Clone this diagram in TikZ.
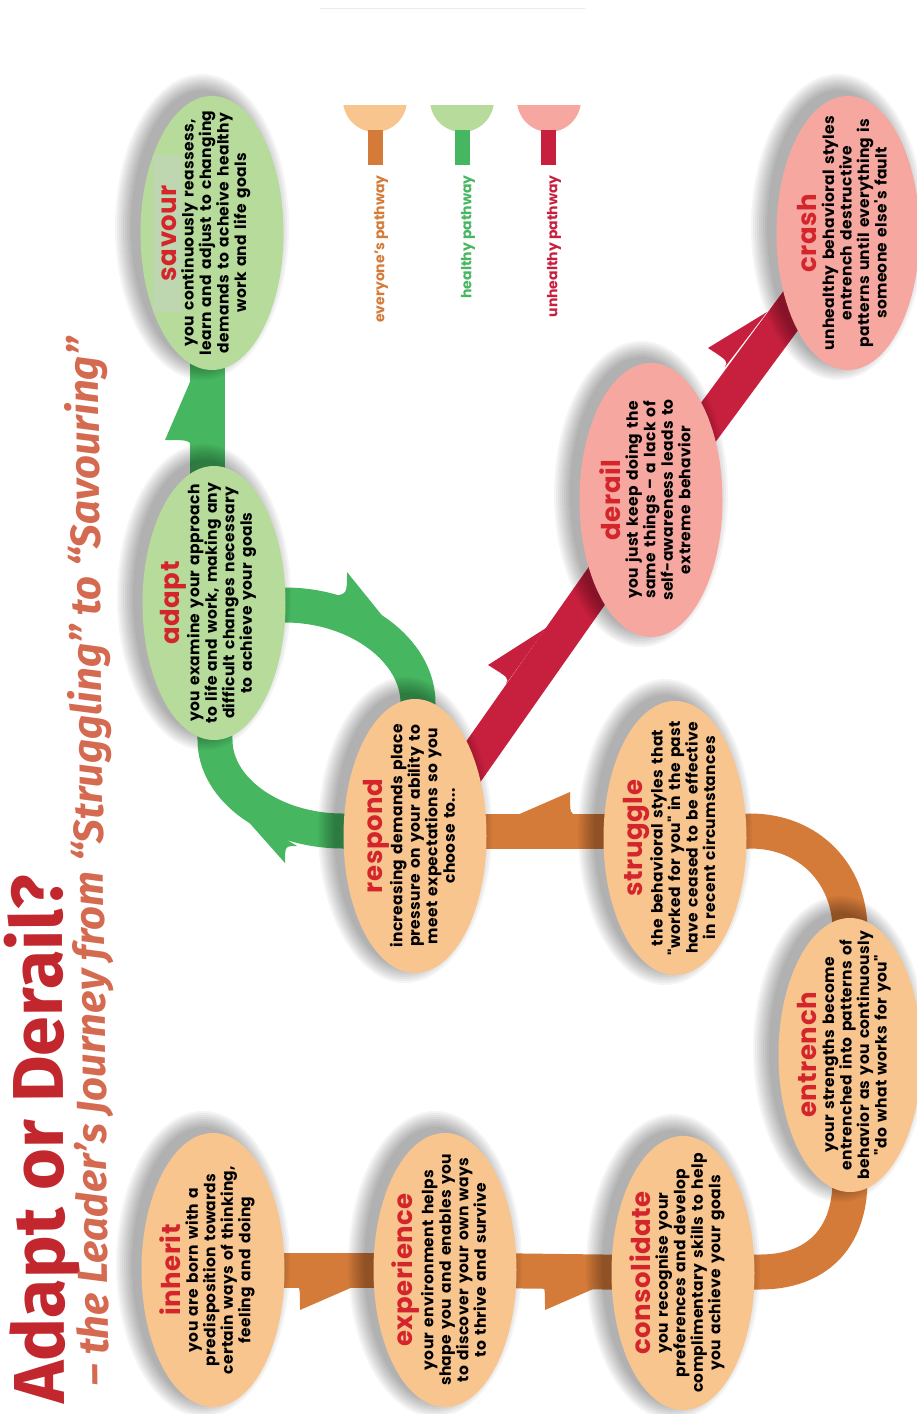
\documentclass[tikz,border=0pt]{standalone}
\usepackage{fontspec}
\setmainfont{Poppins}
\newfontfamily\blurbfont{Poppins}[LetterSpace=2,WordSpace=1.5]
\newfontfamily\titlefont{Fira Sans}
\usetikzlibrary{shapes.geometric,calc}

\definecolor{stageorange}{RGB}{249,197,143}
\definecolor{stagegreen}{RGB}{182,219,154}
\definecolor{stagepink}{RGB}{246,168,160}
\definecolor{bandorange}{RGB}{212,123,58}
\definecolor{bandgreen}{RGB}{70,182,96}
\definecolor{bandred}{RGB}{199,32,62}
\definecolor{headred}{RGB}{212,37,44}
\definecolor{titlered}{RGB}{193,39,45}
\definecolor{subtitlecol}{RGB}{212,106,80}
\definecolor{savourpatch}{RGB}{190,215,176}

\pgfdeclarelayer{bands}
\pgfdeclarelayer{shade}
\pgfsetlayers{bands,shade,main}

\tikzset{
  stage/.style={ellipse, minimum width=274pt, minimum height=143pt,
                inner sep=0pt, rotate=90},
  calm/.style={stage, fill=stageorange},
  healthy/.style={stage, fill=stagegreen},
  unhealthy/.style={stage, fill=stagepink},
  blurb/.style={rotate=90, align=center, inner sep=0pt,
                font=\blurbfont\fontsize{15.5}{17.5}\selectfont\bfseries},
  band/.style={line width=35pt},
  legendtext/.style={rotate=90, anchor=east, inner sep=0pt,
                font=\fontsize{14}{16}\selectfont\bfseries}
}
\newcommand{\stagehead}[1]{{\fontsize{26}{28}\selectfont\color{headred}#1}}
% soft shadow behind a stage, offset up and to the left
\newcommand{\softshadow}[1]{%
  \foreach \k in {0,...,8}
    {\fill[black, opacity=0.038] ($(#1)+(-10,-6)$) ellipse ({71+\k*2} and {137+\k*2});}}
% one-sided barb on a pathway: point, notch end, notch control, taper end
\newcommand{\barb}[5]{\fill[#1] (#2) .. controls (#4) .. (#3) -- (#5) -- cycle;}

\begin{document}
\begin{tikzpicture}[x=1pt, y=-1pt]
\useasboundingbox (0,0) rectangle (917,1414);

% ---------- stages ----------
\node[calm] (inherit) at (213,1270) {};
\node[calm] (experience) at (445,1270) {};
\node[calm] (consolidate) at (683,1273) {};
\node[calm] (entrench) at (850,1055) {};
\node[calm] (struggle) at (675,838) {};
\node[calm] (respond) at (415,836) {};
\node[healthy] (adapt) at (214,603) {};
\node[healthy] (savour) at (212,233) {};
\node[unhealthy] (derail) at (651,500) {};
\node[unhealthy] (crash) at (848,233) {};

\fill[savourpatch] (153,155) rectangle (182,312);

\node[blurb] (inherit-t) at ($(inherit.center)+(-6,0)$)
  {\stagehead{inherit}\\you are born with a\\predisposition towards\\certain ways of thinking,\\feeling and doing};
\node[blurb] (experience-t) at ($(experience.center)+(-6,0)$)
  {\stagehead{experience}\\your environment helps\\shape you and enables you\\to discover your own ways\\to thrive and survive};
\node[blurb] (consolidate-t) at ($(consolidate.center)+(-6,0)$)
  {\stagehead{consolidate}\\you recognise your\\preferences and develop\\complimentary skills to help\\you achieve your goals};
\node[blurb] (entrench-t) at ($(entrench.center)+(-6,0)$)
  {\stagehead{entrench}\\your strengths become\\entrenched into patterns of\\behavior as you continuously\\"do what works for you"};
\node[blurb] (struggle-t) at ($(struggle.center)+(-6,0)$)
  {\stagehead{struggle}\\the behavioral styles that\\"worked for you" in the past\\have ceased to be effective\\in recent circumstances};
\node[blurb] (respond-t) at ($(respond.center)+(-6,0)$)
  {\stagehead{respond}\\increasing demands place\\pressure on your ability to\\meet expectations so you\\choose to...};
\node[blurb] (adapt-t) at ($(adapt.center)+(-6,0)$)
  {\stagehead{adapt}\\you examine your approach\\to life and work, making any\\difficult changes necessary\\to achieve your goals};
\node[blurb] (savour-t) at ($(savour.center)+(-6,0)$)
  {\stagehead{savour}\\you continuously reassess,\\learn and adjust to changing\\demands to acheive healthy\\work and life goals};
\node[blurb] (derail-t) at ($(derail.center)+(-6,0)$)
  {\stagehead{derail}\\you just keep doing the\\same things – a lack of\\self-awareness leads to\\extreme behavior};
\node[blurb] (crash-t) at ($(crash.center)+(-6,0)$)
  {\stagehead{crash}\\unhealthy behavioral styles\\entrench destructive\\patterns until everything is\\someone else's fault};

% ---------- shadows ----------
\begin{pgfonlayer}{shade}
  \foreach \s in {inherit,experience,consolidate,entrench,struggle,respond,adapt,savour,derail,crash}
    {\softshadow{\s.center}}
\end{pgfonlayer}

% ---------- pathways ----------
\begin{pgfonlayer}{bands}
  % everyone's pathway
  \draw[band, bandorange] (inherit.center) -- (experience.center);
  \draw[band, bandorange] (experience.center) -- (consolidate.center);
  \draw[band, bandorange] (consolidate.center) -- (760,1272)
      .. controls (815,1272) and (850,1240) .. (850,1180) -- (entrench.center);
  \draw[band, bandorange] (entrench.center) -- (850,930)
      .. controls (850,875) and (810,831) .. (750,831) -- (struggle.center);
  \draw[band, bandorange] ($(struggle.center)+(0,-7)$) -- ($(respond.center)+(0,-5)$);
  % healthy pathway
  \draw[band, bandgreen] (respond.center) -- (418,703)
      .. controls (418,650) and (357,605) .. (285,605) -- (adapt.center);
  \draw[band, bandgreen] ($(respond.center)+(0,-5)$) -- (343,831)
      .. controls (273,831) and (215,790) .. (215,740) -- (adapt.center);
  \draw[band, bandgreen] ($(adapt.center)+(-7,0)$) -- ($(savour.center)+(-5,0)$);
  % unhealthy pathway
  \draw[band, bandred] ($(respond.center)+(4,3)$) -- ($(derail.center)+(4,3)$);
  \draw[band, bandred] (derail.center) -- (crash.center);
  % barbs along the pathways
  \barb{bandorange}{300,1310}{292,1283}{300,1285}{362,1283}
  \barb{bandorange}{545,1310}{537,1283}{545,1285}{607,1283}
  \barb{bandorange}{570,792}{578,816}{570,814}{515,816}
  \barb{bandgreen}{347,572}{333,596}{347,594}{397,634}
  \barb{bandgreen}{285,863}{297,846}{285,846}{238,810}
  \barb{bandgreen}{165,440}{193,450}{190,440}{193,375}
  \barb{bandred}{488,665}{506,684}{509,678}{546,628}
  \barb{bandred}{708,348}{725,367}{728,361}{767,312}
\end{pgfonlayer}

% ---------- legend ----------
\draw[black!8, line width=0.8pt] (320,8) -- (585,8);
\begin{scope}
  \clip (300,105) rectangle (600,200);
  \fill[stageorange] (375,100) circle (32);
  \fill[stagegreen] (462,100) circle (32);
  \fill[stagepink] (549,100) circle (32);
\end{scope}
\fill[bandorange] (368,130) rectangle (383,165);
\fill[bandgreen] (455,130) rectangle (470,165);
\fill[bandred] (541,130) rectangle (556,165);
\node[legendtext, text=bandorange] (legend-all) at (381,175) {everyone's pathway};
\node[legendtext, text=bandgreen] (legend-healthy) at (468,175) {healthy pathway};
\node[legendtext, text=bandred] (legend-unhealthy) at (554,175) {unhealthy pathway};

% ---------- title ----------
\node[rotate=90.3, anchor=base west, inner sep=0pt, text=titlered,
      font=\titlefont\fontsize{72}{80}\selectfont\bfseries] (title) at (65,1404) {Adapt or Derail?};
\node[rotate=90.6, anchor=base west, inner sep=0pt, text=subtitlecol,
      font=\titlefont\fontsize{42}{47}\selectfont\bfseries\itshape] (subtitle) at (109,1386)
  {– the Leader’s Journey from “Struggling” to “Savouring”};
\end{tikzpicture}
\end{document}
